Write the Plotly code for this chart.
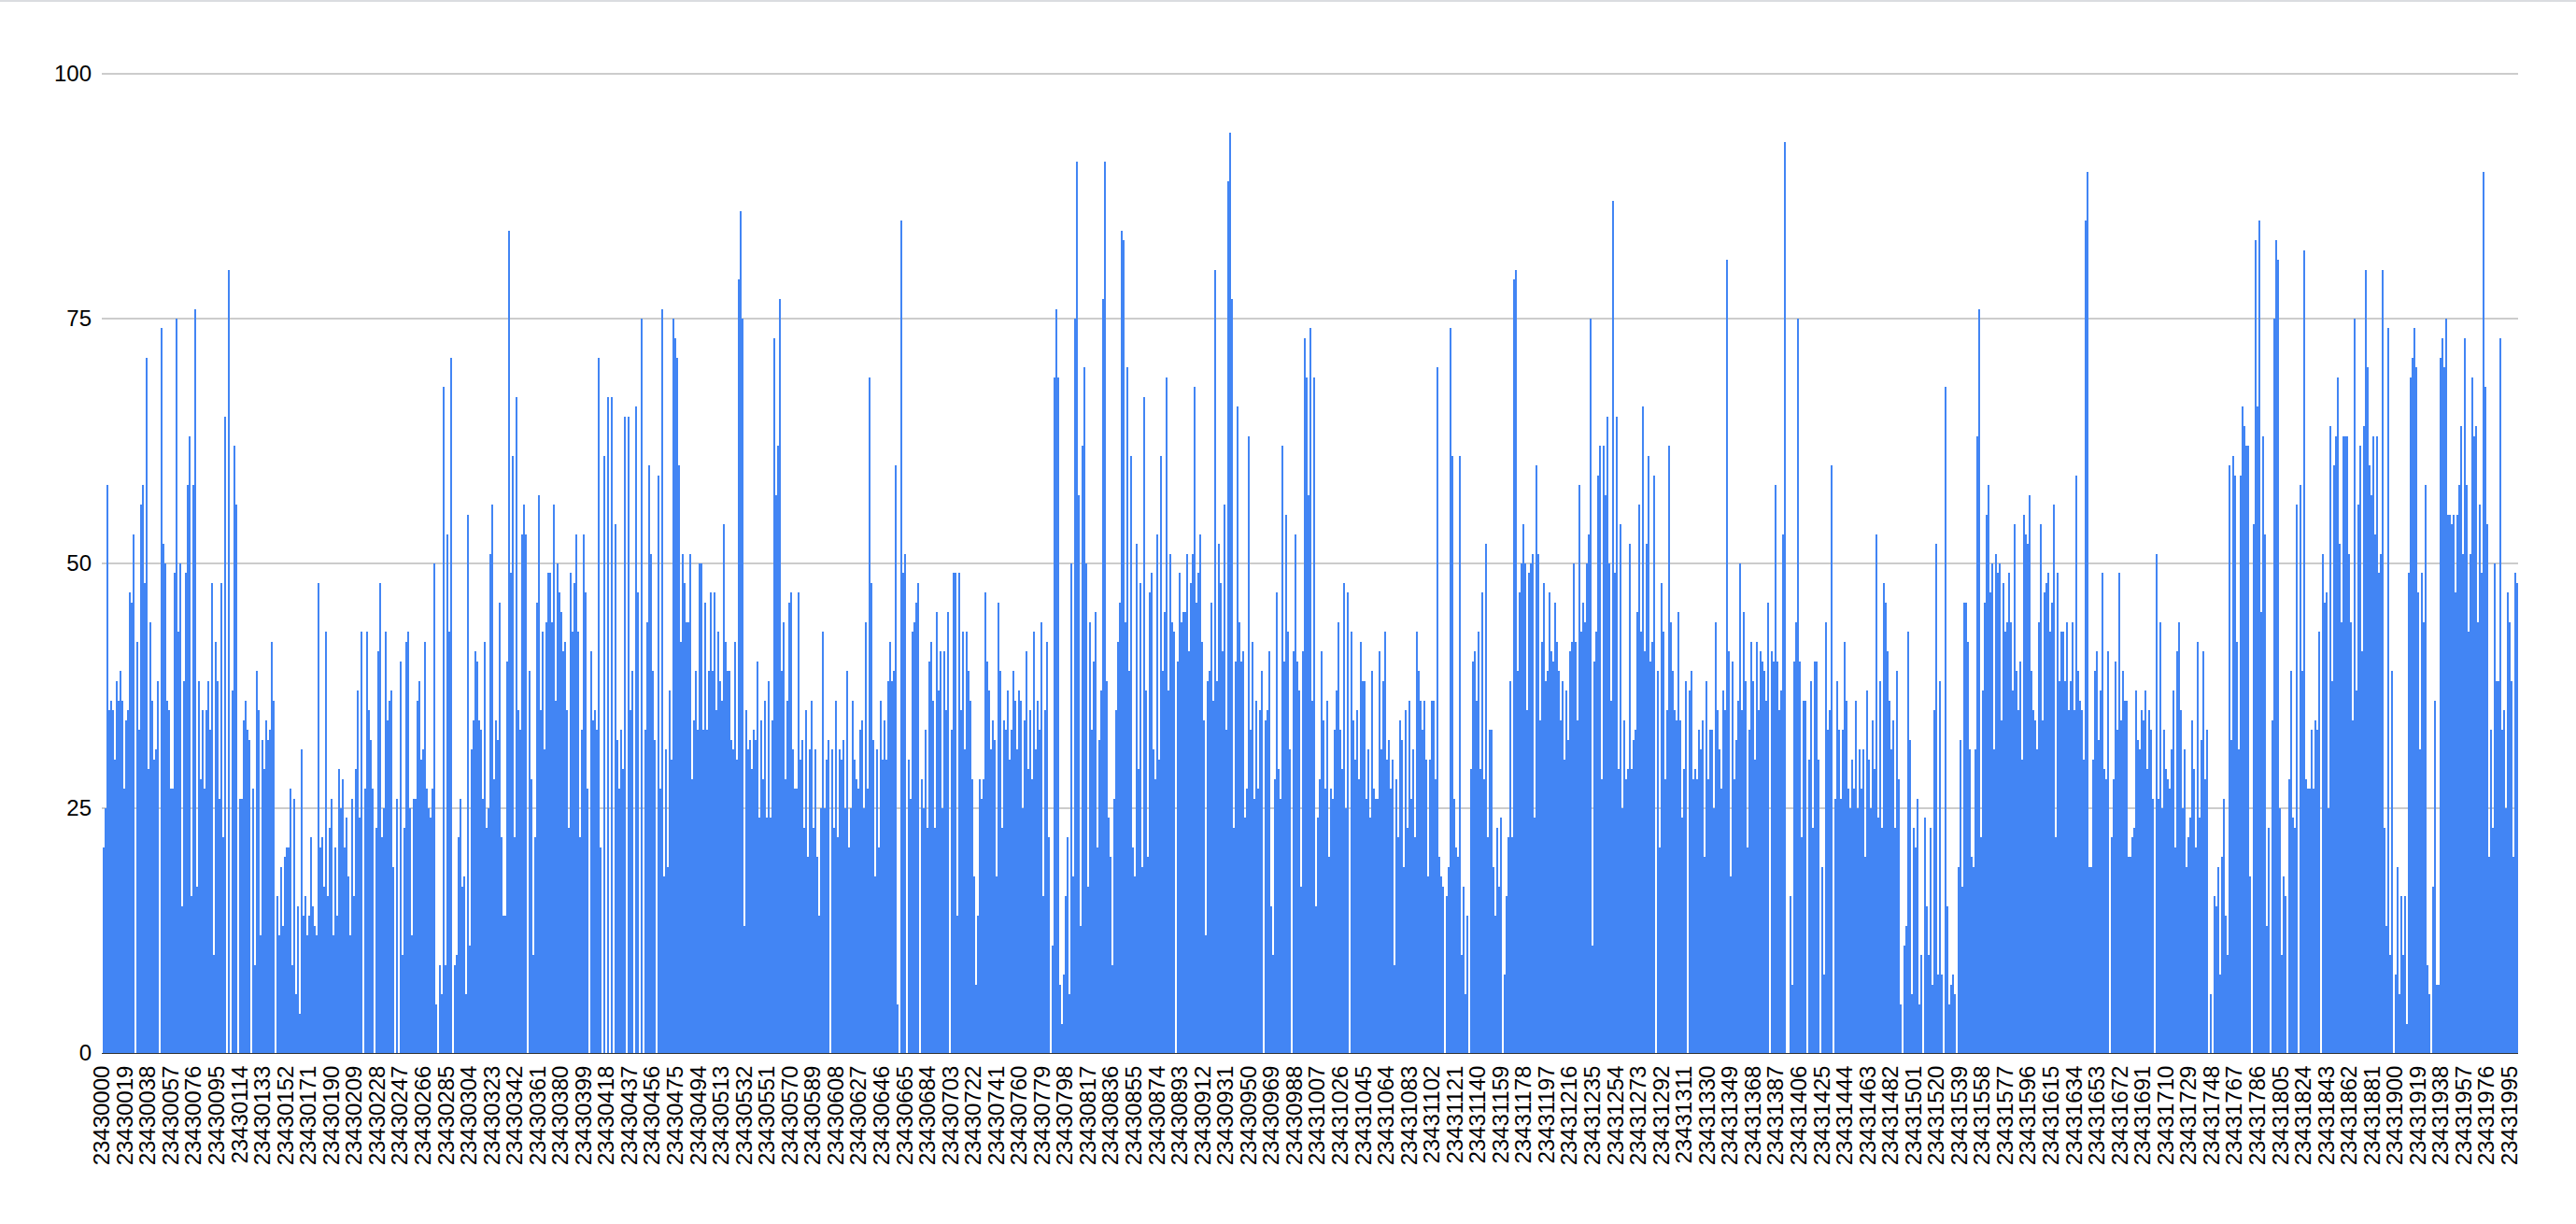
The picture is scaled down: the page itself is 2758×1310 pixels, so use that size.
import plotly.graph_objects as go

values_a = [21,25,58,35,36,35,30,38,36,39,36,27,34,35,47,46,53,0,42,33,56,58,48,71,29,44,36,30,31,38,0,74,52,50,36,35,27,27,49,75,43,50,15,38,49,58,63,16,58,76,17,38,28,35,27,35,38,33,48,10,42,38,26,48,22,65,0,80,0,37,62,56,0,26,26,34,36,33,32,0,27,9,39,35,12,32,29,34,32,33,42,36,0,16,12,19,13,20,21,21,27,9,26,6,15,4,31,14,16,12,14,22,15,13,12,48,21,22,17,43,16,23,26,12,21,14,29,25,28,21,24,18,12,26,16,29,37,24,43,0,27,43,35,32,27,0,23,41,48,22,25,43,34,36,37,19,0,26,0,40,10,23,42,43,25,12,26,26,36,38,30,31,42,27,25,24,27,50,5,0,9,6,68,9,53,43,71,0,9,10,22,26,17,18,6,55,11,31,34,41,40,34,33,26,42,23,25,51,56,28,34,32,46,22,14]
values_b = [14,40,84,49,61,22,67,35,33,53,56,53,0,39,28,10,22,46,57,35,43,31,44,49,49,44,56,36,50,47,45,41,42,35,23,49,43,48,53,43,22,33,53,47,27,0,41,34,35,33,71,21,0,61,0,67,0,67,0,54,32,27,33,29,65,0,65,35,39,0,66,47,0,75,0,33,44,60,51,39,32,0,59,27,76,18,31,19,37,30,75,73,71,60,42,51,48,44,44,51,28,34,39,33,50,50,33,46,33,39,47,39,47,35,43,38,36,54,42,39,39,32,31,42,30,79,86,75,13,35,31,32,29,33,32,40,24,34,28,36,24,38,24,34,73,57,62,77,39,44,28,36,46,47,31,27,27,47,30,32,23,35,20,31,36,23,31,20,14,25,43,25,30,32,0,31,23,36,22,31,30,32,25,39,21,25,36,30,28,27,33,34,25,44,27,69,48,32,18,31,21,36,30,34,30,38,42,38,39,60,5,0,85,49,51,0,30,26,43,44]
values_c = [46,48,0,28,25,33,23,40,42,36,23,45,37,41,25,41,35,45,0,33,49,49,14,49,35,43,31,43,39,36,28,18,7,14,28,26,28,47,40,37,31,34,32,18,46,39,23,34,33,37,30,33,39,36,31,37,36,25,34,41,29,35,28,43,31,36,33,44,16,35,42,22,0,11,69,76,69,7,3,8,16,22,6,50,18,75,91,57,13,62,70,50,17,44,33,40,45,21,32,37,77,91,38,24,20,9,26,35,42,46,84,83,44,70,39,61,21,18,52,29,48,19,67,37,20,47,49,31,28,53,30,61,39,45,69,37,51,44,43,0,40,49,44,45,45,51,41,48,51,68,46,49,53,42,34,12,38,39,46,36,80,38,52,48,41,56,33,89,94,77,23,40,66,44,40,41,24,27,63,33,42,26,36,27,35,39,0,34,35,41,15,10,28,47,29,26,62,40,55,43,31,0,41,53,40,37,17,41,73,69,57,74,36,69,15,24,28,41,34,27]
values_d = [36,20,27,26,33,37,44,33,29,48,25,47,0,43,34,30,35,28,42,38,38,26,31,24,39,27,26,26,41,31,38,43,30,32,27,30,9,28,22,34,32,19,35,23,36,26,31,22,43,39,36,33,36,30,18,30,36,36,28,70,20,18,17,0,16,19,74,61,26,21,20,61,10,17,6,14,0,29,40,41,36,43,29,47,28,52,22,33,33,19,14,23,17,24,0,8,16,22,38,22,79,80,39,47,50,54,50,35,49,50,51,24,60,51,34,42,48,38,39,47,41,40,46,42,39,34,38,30,37,32,41,42,50,42,34,58,43,46,44,50,53,75,11,40,43,59,62,28,62,57,65,50,36,87,49,65,29,54,25,34,28,29,52,29,32,33,45,56,43,66,41,52,61,40,42,59,0,39,21,48,43,28,35,62,44,39,35,34,45,34,24,29,38,0,37,39,28,29,28,33,31,34,20,38,28,33,33,25,44,35,31,27,37,35,81,41,18,40,28,32]
values_e = [36,50,35,45,38,21,33,42,38,30,42,35,41,40,39,36,46,0,41,40,58,40,35,37,53,93,0,0,16,7,40,44,75,40,22,36,36,0,30,38,23,40,40,30,0,19,8,44,33,35,60,0,26,38,33,26,33,42,36,27,25,30,27,36,25,31,27,31,20,37,30,25,34,29,53,24,38,23,48,46,41,36,31,34,23,39,28,5,0,11,13,43,32,6,23,21,26,5,10,0,24,15,10,23,7,35,52,8,38,8,0,68,15,5,7,8,6,0,19,32,17,46,46,42,31,20,19,31,63,76,22,37,46,55,58,47,50,31,51,49,50,34,48,43,44,49,44,37,54,39,35,40,30,55,53,52,57,39,35,34,31,44,54,34,47,48,49,43,46,56,22,49,38,43,43,38,44,35,38,44,35,59,39,36,35,30,85,90,19,19,30,39,41,32,37,49,29,28,41,0,22,28,40,33,49,34,39,36,36,20,20,22,23,37,32,31,35,34,37,29]
values_f = [35,33,26,0,51,26,44,25,33,29,28,27,31,37,21,41,44,35,25,31,19,22,24,34,29,21,42,24,32,41,28,33,0,6,0,16,15,19,8,20,26,14,10,60,32,61,59,42,31,59,66,64,62,62,18,0,54,83,66,85,45,63,53,13,23,0,34,75,83,81,25,10,18,16,0,28,39,24,23,56,0,58,39,82,28,27,27,33,27,34,33,43,0,51,46,47,25,64,38,60,63,69,52,44,63,63,63,51,44,34,75,37,56,62,41,64,80,70,60,57,63,53,63,49,51,80,23,13,74,10,39,0,8,19,6,16,10,16,3,49,69,71,74,70,47,31,49,44,58,9,6,0,17,36,7,7,71,73,70,75,55,55,54,55,47,55,58,64,51,73,58,43,51,69,63,64,44,56,49,90,68,54,20,33,23,50,38,38,73,33,35,25,47,44,38,20,49,48]

tick_ids = list(range(23430000, 23431996, 19))
y_ticks = [0, 25, 50, 75, 100]

values = values_a + values_b + values_c + values_d + values_e + values_f
bar_index = list(range(len(values)))
bars_per_id = 12.275 / 19
tick_pos = [(t - tick_ids[0]) * bars_per_id - 0.75 for t in tick_ids]
print(len(values))

px_per_unit = 10.48
head_px = 3
fig = go.Figure(go.Bar(x=bar_index, y=values, width=1, marker=dict(color="#4285F4", line=dict(width=0)),
                       hoverinfo="y"))
font = dict(family="Liberation Sans, Arial, sans-serif", size=24, color="#000000")
plot_w = 2 * len(values) + 1
fig.update_layout(
    width=2758, height=1310, autosize=False,
    margin=dict(l=109, r=2758 - 109 - plot_w, t=79 - head_px, b=183, pad=0),
    paper_bgcolor="white", plot_bgcolor="white", bargap=0, showlegend=False,
    shapes=[dict(type="rect", xref="paper", yref="paper", x0=-109 / plot_w, x1=1.1,
                 y0=1 + (79 - head_px - 2) / (1048 + head_px), y1=1 + (79 - head_px) / (1048 + head_px),
                 fillcolor="#dadce0", line=dict(width=0), layer="below")],
)
fig.update_xaxes(range=[-1, len(values) - 0.5], tickmode="array", tickvals=tick_pos,
                 ticktext=[str(t) for t in tick_ids], tickangle=-90, tickfont=font, showgrid=False,
                 zeroline=False, showline=True, linecolor="#333333", linewidth=1, ticks="",
                 ticklabelstandoff=3, layer="below traces")
fig.update_yaxes(range=[0, 100 + head_px / px_per_unit], tickmode="array", tickvals=y_ticks, tickfont=font,
                 showgrid=True, gridcolor="#cccccc", gridwidth=2, zeroline=False, showline=False, ticks="",
                 ticklabelstandoff=10, layer="below traces")
fig.write_html("out.html", config={"displayModeBar": False},
               post_script="document.body.style.margin='0';document.documentElement.style.overflow='hidden';")
